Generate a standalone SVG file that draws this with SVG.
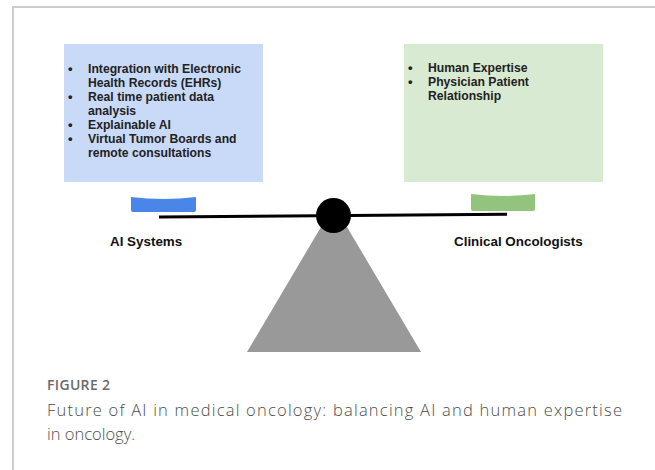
<svg xmlns="http://www.w3.org/2000/svg" width="655" height="470" viewBox="0 0 655 470">
  <style>
    .frame { fill: none; stroke: #cccccc; stroke-width: 2; }
    .item { font-family: "Liberation Sans", Arial, sans-serif; font-weight: bold; font-size: 12.2px; fill: #222222; }
    .bullet { font-family: "Liberation Sans", Arial, sans-serif; font-weight: bold; font-size: 13px; fill: #222222; }
    .label { font-family: "Liberation Sans", Arial, sans-serif; font-weight: bold; font-size: 13.4px; fill: #111111; }
    .fig { font-family: "Open Sans", "Noto Sans", sans-serif; font-weight: 600; font-size: 14px; fill: #6b6b6b; }
    .cap { font-family: "Open Sans", "Noto Sans", sans-serif; font-weight: 300; font-size: 16.5px; fill: #4d4d4d; }
    .beam { stroke: #000000; stroke-width: 3; fill: none; }
  </style>
  <rect x="0" y="0" width="655" height="470" fill="#ffffff"/>
  <path class="frame" d="M13,470 L13,7 L655,7"/>

  <g id="node-ai-box">
    <rect x="64" y="44" width="199" height="138" fill="#c9daf8"/>
    <text class="bullet" x="68" y="73">•</text>
    <text class="item" x="88" y="73">Integration with Electronic</text>
    <text class="item" x="88" y="87">Health Records (EHRs)</text>
    <text class="bullet" x="68" y="101">•</text>
    <text class="item" x="88" y="101">Real time patient data</text>
    <text class="item" x="88" y="115">analysis</text>
    <text class="bullet" x="68" y="129">•</text>
    <text class="item" x="88" y="129">Explainable AI</text>
    <text class="bullet" x="68" y="143">•</text>
    <text class="item" x="88" y="143">Virtual Tumor Boards and</text>
    <text class="item" x="88" y="157">remote consultations</text>
  </g>

  <g id="node-human-box">
    <rect x="404" y="44" width="199" height="138" fill="#d9ead3"/>
    <text class="bullet" x="408" y="72">•</text>
    <text class="item" x="428" y="72">Human Expertise</text>
    <text class="bullet" x="408" y="86">•</text>
    <text class="item" x="428" y="86">Physician Patient</text>
    <text class="item" x="428" y="100">Relationship</text>
  </g>

  <g id="node-fulcrum">
    <polygon points="334,205 421,352 247,352" fill="#999999"/>
  </g>

  <g id="connectors">
    <line class="beam" x1="159" y1="217" x2="507" y2="214.3"/>
  </g>

  <g id="node-pivot">
    <circle cx="333.5" cy="215.5" r="17.5" fill="#000000"/>
  </g>

  <g id="node-ai-pan">
    <path d="M131,197 Q163.5,201 196,197 L196,210 Q196,212 194,212 L133,212 Q131,212 131,210 Z" fill="#4a86e8"/>
    <text class="label" x="110" y="246">AI Systems</text>
  </g>

  <g id="node-human-pan">
    <path d="M471,194 Q503,198 535,194 L535,209 Q535,211 533,211 L473,211 Q471,211 471,209 Z" fill="#93c47d"/>
    <text class="label" x="454" y="246">Clinical Oncologists</text>
  </g>

  <g id="caption">
    <text class="fig" x="47" y="390" textLength="63" lengthAdjust="spacing">FIGURE 2</text>
    <text class="cap" x="47" y="416" textLength="575" lengthAdjust="spacing">Future of AI in medical oncology: balancing AI and human expertise</text>
    <text class="cap" x="47" y="440">in oncology.</text>
  </g>
</svg>
